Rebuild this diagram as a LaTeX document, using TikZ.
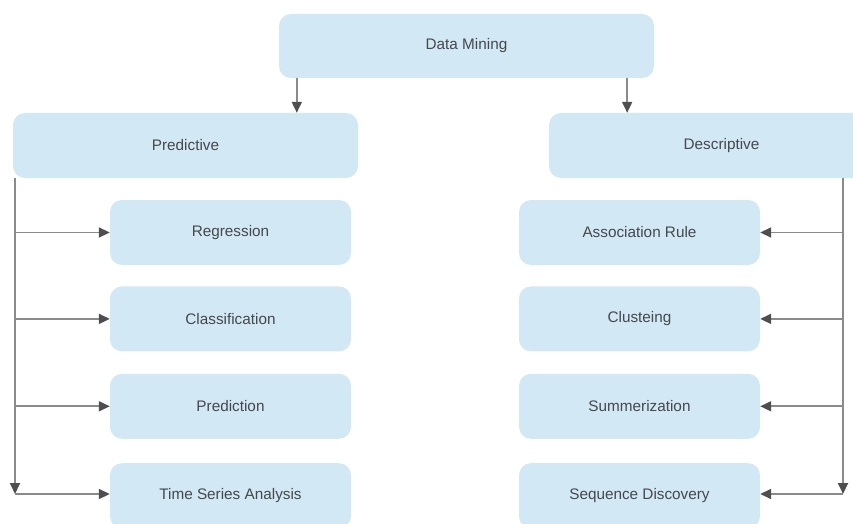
\documentclass[tikz,border=0pt]{standalone}
\usepackage{fontspec}
\setmainfont{Liberation Sans}
\usepackage{tikz}
\usetikzlibrary{calc,arrows.meta,positioning}
\definecolor{boxblue}{HTML}{D2E8F5}
\definecolor{labelgrey}{HTML}{45484D}
\definecolor{linegrey}{HTML}{8A8A8A}
\definecolor{tipgrey}{HTML}{4E4E4E}
\tikzset{
	box/.style={
		rectangle, rounded corners=12pt, fill=boxblue, draw=none,
		inner sep=0pt, text=labelgrey,
		font=\fontsize{15.3}{17}\selectfont
	},
	topbox/.style={box, minimum width=375pt, minimum height=64pt},
	groupbox/.style={box, minimum width=345pt, minimum height=65pt},
	leaf/.style={box, minimum width=241pt, minimum height=65pt},
	link/.style={draw=linegrey, line width=1.8pt,
		-{Triangle[length=11pt,width=10pt,color=tipgrey]}}
}

\begin{document}
\begin{tikzpicture}[x=1pt,y=-1pt]
				\useasboundingbox (0,0) rectangle (853,524);
				\node[topbox]   (dm)    at (466.5,46)    {Data Mining};
				\node[groupbox] (pred)  at (185.5,145.5) {Predictive};
				\node[groupbox] (desc)  at (721.5,145.5) {Descriptive};
				% predictive methods
				\node[leaf] (reg)   at (230.5,232.5) {Regression};
				\node[leaf] (cls)   [below=21pt of reg] {Classification};
				\node[leaf] (prd)   [below=22pt of cls] {Prediction};
				\node[leaf] (tsa)   [below=24pt of prd] {Time Series Analysis};
				% descriptive methods
				\node[leaf] (assoc) at (639.5,232.5) {Association Rule};
				\node[leaf] (clu)   [below=21pt of assoc] {Clusteing};
				\node[leaf] (summ)  [below=22pt of clu] {Summerization};
				\node[leaf] (seq)   [below=24pt of summ] {Sequence Discovery};
				% branch points under the top box and spine ends
				\coordinate (lfork) at ($(dm.south west)!0.048!(dm.south east)$);
				\coordinate (rfork) at ($(dm.south west)!0.928!(dm.south east)$);
				\coordinate (lend) at (15,494);
				\coordinate (rend) at (843,494);
				\draw[link] (lfork) -- (lfork |- pred.north);
				\draw[link] (rfork) -- (rfork |- desc.north);
				\draw[link] (lend |- pred.south) -- (lend);
				\draw[link] (lend |- reg.west) -- (reg.west);
				\draw[link] (lend |- cls.west) -- (cls.west);
				\draw[link] (lend |- prd.west) -- (prd.west);
				\draw[link] (lend) -- (lend -| tsa.west);
				\draw[link] (rend |- desc.south) -- (rend);
				\draw[link] (rend |- assoc.east) -- (assoc.east);
				\draw[link] (rend |- clu.east) -- (clu.east);
				\draw[link] (rend |- summ.east) -- (summ.east);
				\draw[link] (rend) -- (rend -| seq.east);
			\end{tikzpicture}
\end{document}
